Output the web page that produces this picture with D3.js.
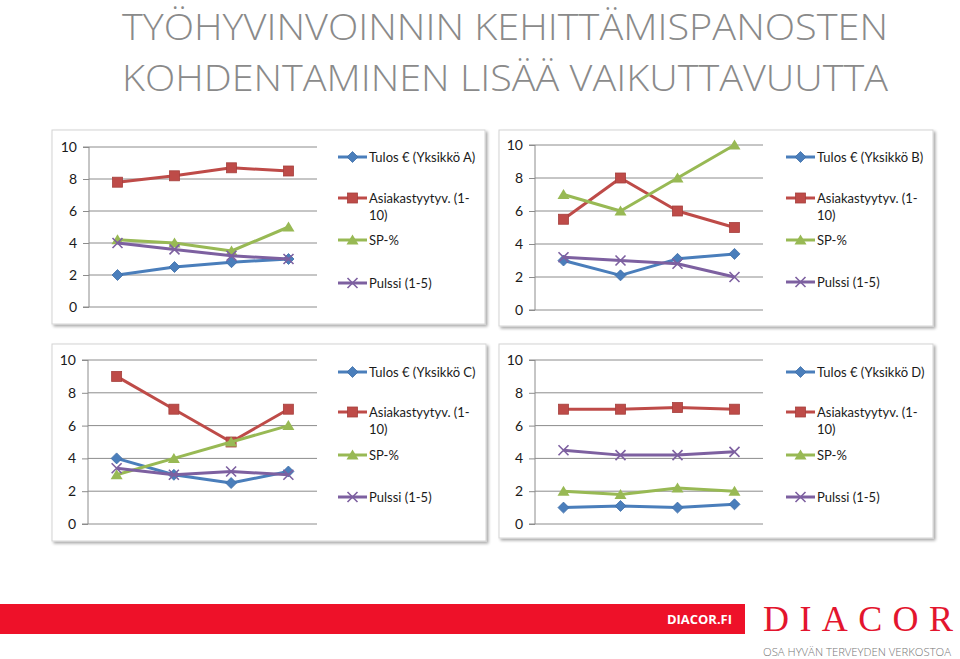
<!DOCTYPE html>
<html><head><meta charset="utf-8">
<script src="https://cdn.jsdelivr.net/npm/d3@7"></script>
<style>
html,body{margin:0;padding:0;background:#fff;}
svg{display:block;}
</style></head>
<body>
<svg id="c" width="960" height="659"></svg>
<script>
// ---- DATA ----
const categories = ["1", "2", "3", "4"];
const yTicks = [0, 2, 4, 6, 8, 10];
const units = ["A", "B", "C", "D"];
const seriesLabels = ["Tulos € (Yksikkö ", "Asiakastyytyv. (1-", "SP-%", "Pulssi (1-5)"];

const tulosA   = [2.0, 2.5, 2.8, 3.0];
const asiakasA = [7.8, 8.2, 8.7, 8.5];
const spA      = [4.2, 4.0, 3.5, 5.0];
const pulssiA  = [4.0, 3.6, 3.2, 3.0];

const tulosB   = [3.0, 2.1, 3.1, 3.4];
const asiakasB = [5.5, 8.0, 6.0, 5.0];
const spB      = [7.0, 6.0, 8.0, 10.0];
const pulssiB  = [3.2, 3.0, 2.8, 2.0];

const tulosC   = [4.0, 3.0, 2.5, 3.2];
const asiakasC = [9.0, 7.0, 5.0, 7.0];
const spC      = [3.0, 4.0, 5.0, 6.0];
const pulssiC  = [3.4, 3.0, 3.2, 3.0];

const tulosD   = [1.0, 1.1, 1.0, 1.2];
const asiakasD = [7.0, 7.0, 7.1, 7.0];
const spD      = [2.0, 1.8, 2.2, 2.0];
const pulssiD  = [4.5, 4.2, 4.2, 4.4];

const titleLines = ["TYÖHYVINVOINNIN KEHITTÄMISPANOSTEN", "KOHDENTAMINEN LISÄÄ VAIKUTTAVUUTTA"];

// ---- STYLE / LAYOUT ----
const colors = ["#4A7EBB", "#BE4B48", "#98B954", "#7D60A0"];
const markers = ["diamond", "square", "triangle", "x"];
const font = "Lato, 'Open Sans', 'Liberation Sans', sans-serif";

const panels = [
  {unit: "A", data: [tulosA, asiakasA, spA, pulssiA], box: [52, 130, 433, 194], plot: [89, 317, 147, 307], leg: {x: 338, ys: [157, 198, 240, 283]}},
  {unit: "B", data: [tulosB, asiakasB, spB, pulssiB], box: [499, 130, 434, 196], plot: [535, 763, 145, 310], leg: {x: 786, ys: [157, 198, 240, 282]}},
  {unit: "C", data: [tulosC, asiakasC, spC, pulssiC], box: [52, 344, 434, 197], plot: [88, 317, 360, 524], leg: {x: 338, ys: [372, 412, 455, 497]}},
  {unit: "D", data: [tulosD, asiakasD, spD, pulssiD], box: [499, 344, 434, 194], plot: [535, 763, 360, 524], leg: {x: 786, ys: [372, 412, 455, 497]}}
];

const svg = d3.select("#c");

const defs = svg.append("defs");
const f = defs.append("filter").attr("id", "sh").attr("x", "-5%").attr("y", "-5%").attr("width", "115%").attr("height", "115%");
f.append("feGaussianBlur").attr("in", "SourceAlpha").attr("stdDeviation", 1.5);
f.append("feOffset").attr("dx", 2).attr("dy", 2).attr("result", "ob");
f.append("feComponentTransfer").append("feFuncA").attr("type", "linear").attr("slope", 0.35);
const fm = f.append("feMerge");
fm.append("feMergeNode");
fm.append("feMergeNode").attr("in", "SourceGraphic");

// Title
svg.selectAll("text.title").data(titleLines).join("text")
  .attr("class", "title")
  .attr("x", 122).attr("y", (d, i) => 40 + i * 51)
  .attr("textLength", 766).attr("lengthAdjust", "spacingAndGlyphs")
  .attr("font-family", "'Open Sans', Lato, sans-serif").attr("font-weight", 300)
  .attr("font-size", 37).attr("fill", "#8a8a8a")
  .text(d => d);

function drawMarker(g, type, x, y, color) {
  if (type === "diamond") {
    g.append("path").attr("d", `M${x},${y - 5.5}L${x + 5.5},${y}L${x},${y + 5.5}L${x - 5.5},${y}Z`)
      .attr("fill", color).attr("stroke", "#3f6fa8").attr("stroke-width", 0.8);
  } else if (type === "square") {
    g.append("rect").attr("x", x - 5).attr("y", y - 5).attr("width", 10).attr("height", 10)
      .attr("fill", color).attr("stroke", "#a5403d").attr("stroke-width", 0.8);
  } else if (type === "triangle") {
    g.append("path").attr("d", `M${x},${y - 5.5}L${x + 6},${y + 4.5}L${x - 6},${y + 4.5}Z`)
      .attr("fill", color);
  } else {
    g.append("path").attr("d", `M${x - 5},${y - 5}L${x + 5},${y + 5}M${x - 5},${y + 5}L${x + 5},${y - 5}`)
      .attr("stroke", color).attr("stroke-width", 1.6).attr("fill", "none");
  }
}

panels.forEach(p => {
  const g = svg.append("g");
  g.append("rect").attr("x", p.box[0]).attr("y", p.box[1]).attr("width", p.box[2]).attr("height", p.box[3])
    .attr("fill", "#fff").attr("stroke", "#d4d4d4").attr("stroke-width", 1).attr("filter", "url(#sh)");

  const [x0, x1, yT, yB] = p.plot;
  const x = d3.scalePoint().domain(categories).range([x0, x1]).padding(0.5);
  const y = d3.scaleLinear().domain([0, 10]).range([yB, yT]);

  // gridlines
  g.selectAll("line.grid").data(yTicks.filter(t => t > 0)).join("line")
    .attr("x1", x0).attr("x2", x1).attr("y1", d => y(d)).attr("y2", d => y(d))
    .attr("stroke", "#8c8c8c").attr("stroke-width", 1);

  const ax = g.append("g").attr("transform", `translate(${x0},0)`)
    .call(d3.axisLeft(y).tickValues(yTicks).tickSize(6).tickPadding(6).tickFormat(d3.format("d")));
  ax.select(".domain").attr("stroke", "#8c8c8c").attr("d", `M-6,${yT}H0V${yB}H-6`);
  ax.selectAll(".tick line").attr("stroke", "#8c8c8c");
  ax.selectAll(".tick text").attr("font-family", font).attr("font-size", 14).attr("fill", "#1a1a1a");
  // x axis baseline
  g.append("line").attr("x1", x0).attr("x2", x1).attr("y1", yB).attr("y2", yB).attr("stroke", "#8c8c8c");

  const line = d3.line().x((d, i) => x(categories[i])).y(d => y(d));
  p.data.forEach((vals, si) => {
    g.append("path").attr("d", line(vals)).attr("fill", "none").attr("stroke", colors[si])
      .attr("stroke-width", 3).attr("stroke-linejoin", "round");
    vals.forEach((v, i) => drawMarker(g, markers[si], x(categories[i]), y(v), colors[si]));
  });

  // legend
  seriesLabels.forEach((lab, si) => {
    const ly = p.leg.ys[si];
    g.append("line").attr("x1", p.leg.x).attr("x2", p.leg.x + 29).attr("y1", ly).attr("y2", ly)
      .attr("stroke", colors[si]).attr("stroke-width", 3);
    drawMarker(g, markers[si], p.leg.x + 14.5, ly, colors[si]);
    const t = g.append("text").attr("x", p.leg.x + 31).attr("y", ly + 4.5)
      .attr("font-family", font).attr("font-size", 13).attr("fill", "#1a1a1a");
    if (si === 0) t.text(lab + p.unit + ")");
    else if (si === 1) {
      t.append("tspan").text(lab);
      t.append("tspan").attr("x", p.leg.x + 31).attr("dy", 17).text("10)");
    } else t.text(lab);
  });
});

// Footer
svg.append("rect").attr("x", 0).attr("y", 604).attr("width", 745).attr("height", 30).attr("fill", "#EE1129");
svg.append("text").attr("x", 667).attr("y", 624).attr("textLength", 65).attr("lengthAdjust", "spacingAndGlyphs")
  .attr("font-family", "'Open Sans', sans-serif").attr("font-weight", 700).attr("font-size", 12).attr("fill", "#fff").text("DIACOR.FI");
svg.append("text").attr("x", 763).attr("y", 631).attr("textLength", 190).attr("lengthAdjust", "spacing")
  .attr("font-family", "'Liberation Serif', 'DejaVu Serif', serif").attr("font-size", 36).attr("fill", "#E3152E").text("DIACOR");
svg.append("text").attr("x", 763).attr("y", 656).attr("textLength", 188).attr("lengthAdjust", "spacingAndGlyphs")
  .attr("font-family", "'Open Sans', sans-serif").attr("font-weight", 300).attr("font-size", 10).attr("fill", "#777").text("OSA HYVÄN TERVEYDEN VERKOSTOA");
</script>
</body></html>
